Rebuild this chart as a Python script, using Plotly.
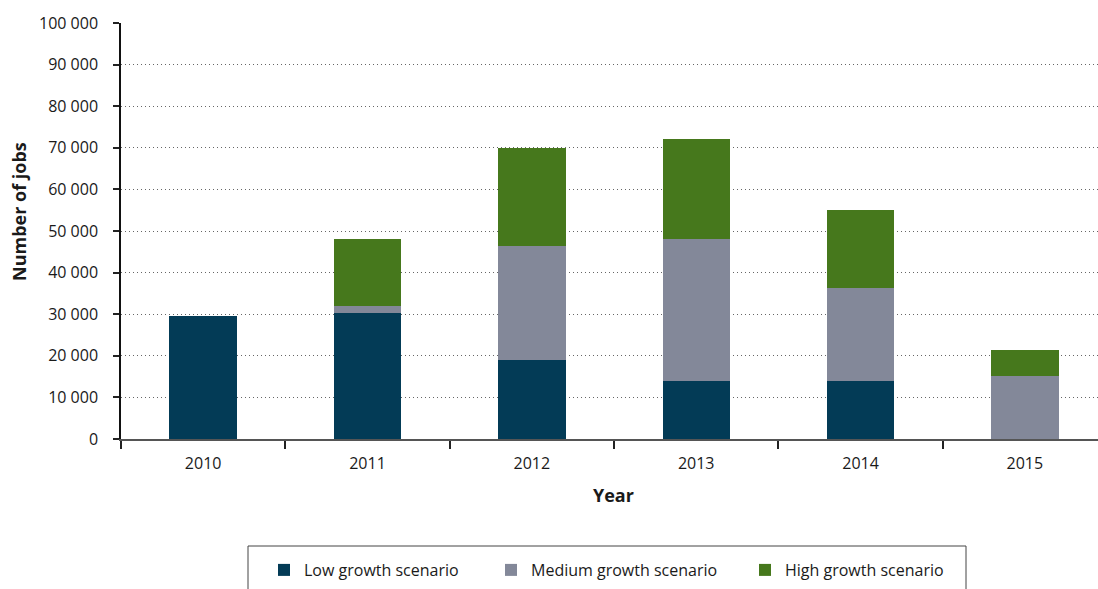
import plotly.graph_objects as go

# Job estimates per year and growth scenario
years = ["2010", "2011", "2012", "2013", "2014", "2015"]
low_growth = [29600, 30300, 18900, 13900, 13900, 0]
medium_growth = [0, 1600, 27500, 34200, 22400, 15100]
high_growth = [0, 16200, 23600, 24000, 18700, 6300]

series_names = ["Low growth scenario", "Medium growth scenario", "High growth scenario"]
series_colors = ["#033B56", "#838899", "#46781C"]
y_ticks = list(range(0, 100001, 10000))

W, H = 1098, 589
L, R, T, B = 121, 0, 23, 150
plot_w = W - L - R
plot_h = H - T - B

FONT = "Open Sans"
TXT = "#1a1a1a"

fig = go.Figure()
legend_ids = ["legend", "legend2", "legend3"]
for name, vals, col, lg in zip(series_names, [low_growth, medium_growth, high_growth],
                               series_colors, legend_ids):
    fig.add_trace(go.Bar(
        x=years, y=vals, name=name, legend=lg, showlegend=True,
        marker=dict(color=col, line=dict(width=0)),
        width=0.41,
        hoverinfo="x+y+name",
    ))

legend_x_px = [264, 491, 745]
legend_common = dict(
    orientation="h", xref="container", yref="container",
    xanchor="left", yanchor="middle",
    y=1 - 570 / H,
    font=dict(family=FONT, size=16, color=TXT),
    bgcolor="rgba(0,0,0,0)", borderwidth=0, visible=True,
)

fig.update_layout(
    width=W, height=H,
    margin=dict(l=L, r=R, t=T, b=B, pad=0),
    barmode="stack",
    showlegend=True,
    plot_bgcolor="white", paper_bgcolor="white",
    separators=". ",
    font=dict(family=FONT, size=16, color=TXT),
    legend=dict(x=legend_x_px[0] / W, **legend_common),
    legend2=dict(x=legend_x_px[1] / W, **legend_common),
    legend3=dict(x=legend_x_px[2] / W, **legend_common),
    xaxis=dict(
        type="category", range=[-0.5, 5.445],
        showline=True, linecolor="#555", linewidth=2,
        ticks="outside", tickson="boundaries", ticklen=8, tickwidth=1.5, tickcolor="#222",
        ticklabelstandoff=9,
        showgrid=False, zeroline=False,
        tickfont=dict(family=FONT, size=16, color=TXT),
    ),
    yaxis=dict(
        range=[0, 100000], tickvals=y_ticks, tickformat=",d",
        showline=True, linecolor="#111", linewidth=1.5,
        ticks="outside", ticklen=6, tickwidth=1.5, tickcolor="#222",
        ticklabelstandoff=12,
        showgrid=True, gridcolor="#666", gridwidth=1.2, griddash="1px,3px",
        zeroline=False,
        tickfont=dict(family=FONT, size=16, color=TXT),
    ),
    shapes=[dict(
        type="rect", xref="paper", yref="paper",
        x0=(248 - L) / plot_w, x1=(966 - L) / plot_w,
        y0=(H - B - 546) / plot_h, y1=(H - B - 610) / plot_h,
        line=dict(color="#444", width=1), fillcolor="rgba(0,0,0,0)", layer="above",
    )],
    annotations=[
        dict(text="<b>Number of jobs</b>", textangle=-90, xref="paper", yref="paper",
             x=(19 - L) / plot_w, y=(H - B - 212) / plot_h, xanchor="center", yanchor="middle",
             showarrow=False, font=dict(family=FONT, size=18, color=TXT)),
        dict(text="<b>Year</b>", xref="paper", yref="paper",
             x=(613 - L) / plot_w, y=(H - B - 495) / plot_h, xanchor="center", yanchor="middle",
             showarrow=False, font=dict(family=FONT, size=18, color=TXT)),
    ],
)

fig.write_html("out.html")
